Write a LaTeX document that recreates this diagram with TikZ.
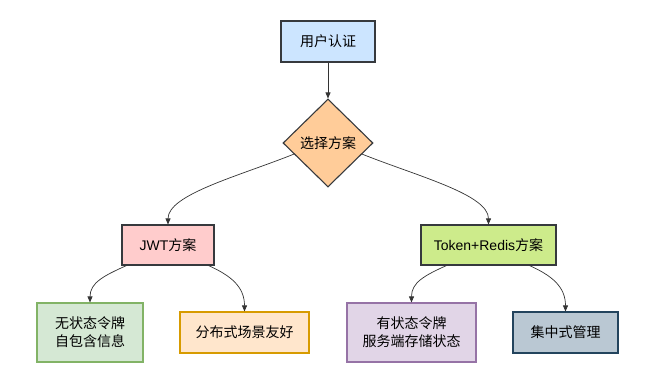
\documentclass[tikz,border=0pt]{standalone}
\usepackage{fontspec}
\setmainfont{Liberation Sans}
\newfontfamily\cjk{Noto Sans CJK SC}
\usetikzlibrary{shapes.geometric,arrows.meta,calc}
\definecolor{cblue}{HTML}{CCE5FF}
\definecolor{corange}{HTML}{FFCC99}
\definecolor{cpink}{HTML}{FFCCCC}
\definecolor{clime}{HTML}{CDEB8B}
\definecolor{cgreen}{HTML}{D5E8D4}
\definecolor{cgreenS}{HTML}{82B366}
\definecolor{cpeach}{HTML}{FFE6CC}
\definecolor{cpeachS}{HTML}{D79B00}
\definecolor{cpurple}{HTML}{E1D5E7}
\definecolor{cpurpleS}{HTML}{9673A6}
\definecolor{cslate}{HTML}{BAC8D3}
\definecolor{cslateS}{HTML}{23445D}
\definecolor{cdark}{HTML}{36393D}
\begin{document}
\begin{tikzpicture}[x=1pt,y=-1pt,
  box/.style={draw=cdark,line width=1.1pt,inner sep=0pt,align=center,
    font=\fontsize{14pt}{18pt}\selectfont},
  link/.style={draw=black!80,line width=0.7pt,-{Triangle[length=6pt,width=5pt]}}]
\useasboundingbox (0,0) rectangle (648,387);
\node[box,fill=cblue,minimum width=94pt,minimum height=41pt] (auth) at (328,41.5) {\cjk 用户认证};
\node[box,diamond,fill=corange,minimum width=90pt,minimum height=88pt] (choice) at (328,143) {\cjk 选择方案};
\node[box,fill=cpink,minimum width=92pt,minimum height=40pt] (jwt) at (168,245) {JWT\cjk 方案};
\node[box,fill=clime,minimum width=135pt,minimum height=40pt] (redis) at (488.5,245) {Token+Redis\cjk 方案};
\node[box,draw=cgreenS,fill=cgreen,minimum width=106pt,minimum height=59pt] (stateless) at (90,332.5) {\cjk 无状态令牌\\\cjk 自包含信息};
\node[box,draw=cpeachS,fill=cpeach,minimum width=129pt,minimum height=41pt] (dist) at (244.5,332.5) {\cjk 分布式场景友好};
\node[box,draw=cpurpleS,fill=cpurple,minimum width=129pt,minimum height=59pt] (stateful) at (411.5,332.5) {\cjk 有状态令牌\\\cjk 服务端存储状态};
\node[box,draw=cslateS,fill=cslate,minimum width=105pt,minimum height=41pt] (central) at (565.5,332.5) {\cjk 集中式管理};
\draw[link] (auth.south) -- (choice.north);
\coordinate (cl) at ($(choice.west)!0.25!(choice.south)$);
\coordinate (cr) at ($(choice.east)!0.25!(choice.south)$);
\draw[link] (cl) .. controls ($(cl)+(-55,22)$) and ($(jwt.north)+(0,-30)$) .. (jwt.north);
\draw[link] (cr) .. controls ($(cr)+(55,22)$) and ($(redis.north)+(0,-30)$) .. (redis.north);
\coordinate (j1) at ($(jwt.south west)+(5,0)$);
\coordinate (j2) at ($(jwt.south east)+(-6,0)$);
\draw[link] (j1) .. controls ($(j1)+(-22,10)$) and ($(stateless.north)+(0,-20)$) .. (stateless.north);
\draw[link] (j2) .. controls ($(j2)+(22,10)$) and ($(dist.north)+(0,-25)$) .. (dist.north);
\coordinate (r1) at ($(redis.south west)+(26,0)$);
\coordinate (r2) at ($(redis.south east)+(-27,0)$);
\draw[link] (r1) .. controls ($(r1)+(-22,10)$) and ($(stateful.north)+(0,-20)$) .. (stateful.north);
\draw[link] (r2) .. controls ($(r2)+(22,10)$) and ($(central.north)+(0,-25)$) .. (central.north);
\end{tikzpicture}
\end{document}
